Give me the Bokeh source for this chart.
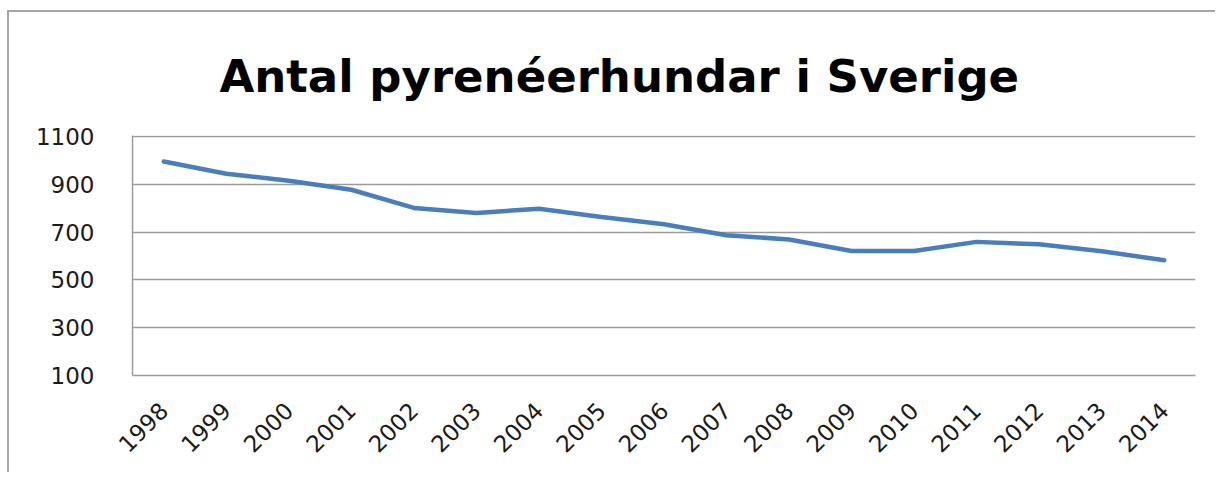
from bokeh.plotting import figure
from bokeh.models import FactorRange, FixedTicker, ColumnDataSource
from bokeh.embed import file_html
from bokeh.resources import INLINE
import math

title_text = "Antal pyrenéerhundar i Sverige"
years = [str(y) for y in range(1998, 2015)]
counts = [995, 944, 915, 877, 801, 780, 798, 763, 733, 687, 669, 621, 621, 659, 649, 620, 582]
y_ticks = [100, 300, 500, 700, 900, 1100]

src = ColumnDataSource(dict(x=years, y=counts))

W, H = 1208, 462
p = figure(width=W, height=H, x_range=FactorRange(*years, range_padding=0),
           y_range=(100, 1104), output_backend="svg", toolbar_location=None,
           min_border_left=123, min_border_right=W - 1186, min_border_top=123,
           min_border_bottom=H - 363)
p.styles = {"margin-left": "7px", "margin-top": "10px",
            "border-left": "2px solid #a6a6a6", "border-top": "2px solid #a6a6a6"}

p.title.text = title_text
p.title.text_font = "DejaVu Sans"
p.title.text_font_size = "45px"
p.title.text_font_style = "bold"
p.title.align = "left"
p.title.offset = 87
p.title.standoff = 66
p.title.text_color = "#000000"

p.line("x", "y", source=src, line_color="#4a7ebb", line_width=4.5, line_join="round", line_cap="round")

p.outline_line_color = None
p.xgrid.grid_line_color = None
p.ygrid.grid_line_color = "#9a9a9a"
p.ygrid.grid_line_width = 1.5
p.yaxis.ticker = FixedTicker(ticks=y_ticks)

for ax in (p.xaxis, p.yaxis):
    ax.axis_line_color = "#9a9a9a"
    ax.axis_line_width = 1.5
    ax.major_tick_line_color = None
    ax.minor_tick_line_color = None
    ax.major_label_text_font = "DejaVu Sans"
    ax.major_label_text_font_size = "23px"
    ax.major_label_text_color = "#1a1a1a"

p.yaxis.major_label_standoff = 32
p.xaxis.major_label_orientation = math.pi / 4
p.xaxis.major_label_standoff = 25

open("out.html", "w").write(file_html(p, INLINE))
